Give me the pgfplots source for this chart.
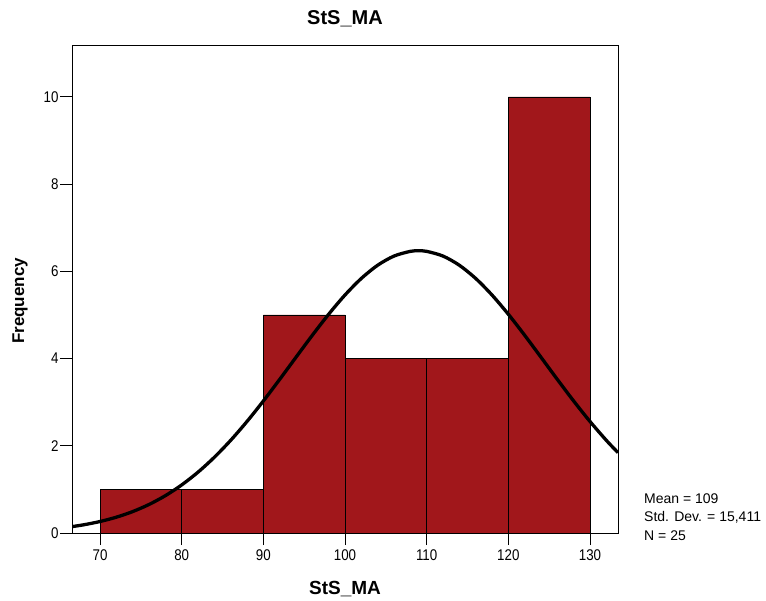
\documentclass[border=0pt]{standalone}
\usepackage{fontspec}
\setmainfont{Liberation Sans}
\newfontfamily\narrowfont[FakeStretch=0.86]{Liberation Sans}
\usepackage{pgfplots}
\pgfplotsset{compat=1.18}

\definecolor{barred}{RGB}{161,23,27}

% Normal curve for mean 109, sd 15.411, N = 25, bin width 10
\pgfplotstableread{
x       y
66.57   0.1463
68      0.1880
70      0.2633
72      0.3626
74      0.4910
76      0.6537
78      0.8557
80      1.1019
82      1.3949
84      1.7362
86      2.1249
88      2.5575
90      3.0266
92      3.5219
94      4.0301
96      4.5343
98      5.0162
100     5.4570
102     5.8373
104     6.1399
106     6.3502
108     6.4581
109     6.4717
110     6.4581
112     6.3502
114     6.1399
116     5.8373
118     5.4570
120     5.0162
122     4.5343
124     4.0301
126     3.5219
128     3.0266
130     2.5575
132     2.1249
133.43  1.8423
}\normalcurve

\begin{document}
\begin{tikzpicture}
\useasboundingbox (-72bp,-68bp) rectangle (694bp,533bp);
\begin{axis}[
  name=ax,
  at={(0,0)}, anchor=south west,
  scale only axis,
  width=546bp, height=488bp,
  xmin=66.57, xmax=133.43,
  ymin=0, ymax=11.19,
  xtick={70,80,...,130},
  ytick={0,2,4,6,8,10},
  tick align=outside,
  major tick length=12bp,
  tick style={black, line width=0.8pt},
  xtick pos=bottom, ytick pos=left,
  axis line style={black, line width=0.8pt},
  tick label style={font=\narrowfont\fontsize{15.5bp}{18bp}\selectfont},
  /pgf/number format/assume math mode=true,
  xticklabel style={yshift=-1bp},
  yticklabel style={xshift=2bp},
  clip=true,
]
\addplot[ybar interval, fill=barred, draw=black, line width=0.7pt]
  coordinates {(70,1) (80,1) (90,5) (100,4) (110,4) (120,10) (130,10)};
\addplot[black, line width=3.3bp, smooth] table[x=x, y=y] {\normalcurve};
\end{axis}
\node[font=\bfseries\fontsize{20bp}{24bp}\selectfont] at ([yshift=26bp]ax.north) {StS\_MA};
\node[font=\bfseries\fontsize{19bp}{23bp}\selectfont] at ([yshift=-55.7bp]ax.south) {StS\_MA};
\node[font=\bfseries\fontsize{17bp}{20bp}\selectfont, rotate=90] at (-52bp,232bp) {Frequency};
\node[font=\fontsize{14bp}{18.5bp}\selectfont, anchor=west, align=left, inner sep=0pt]
  at (572bp,16bp) {Mean = 109\\Std. Dev. = 15,411\\N = 25};
\end{tikzpicture}
\end{document}
